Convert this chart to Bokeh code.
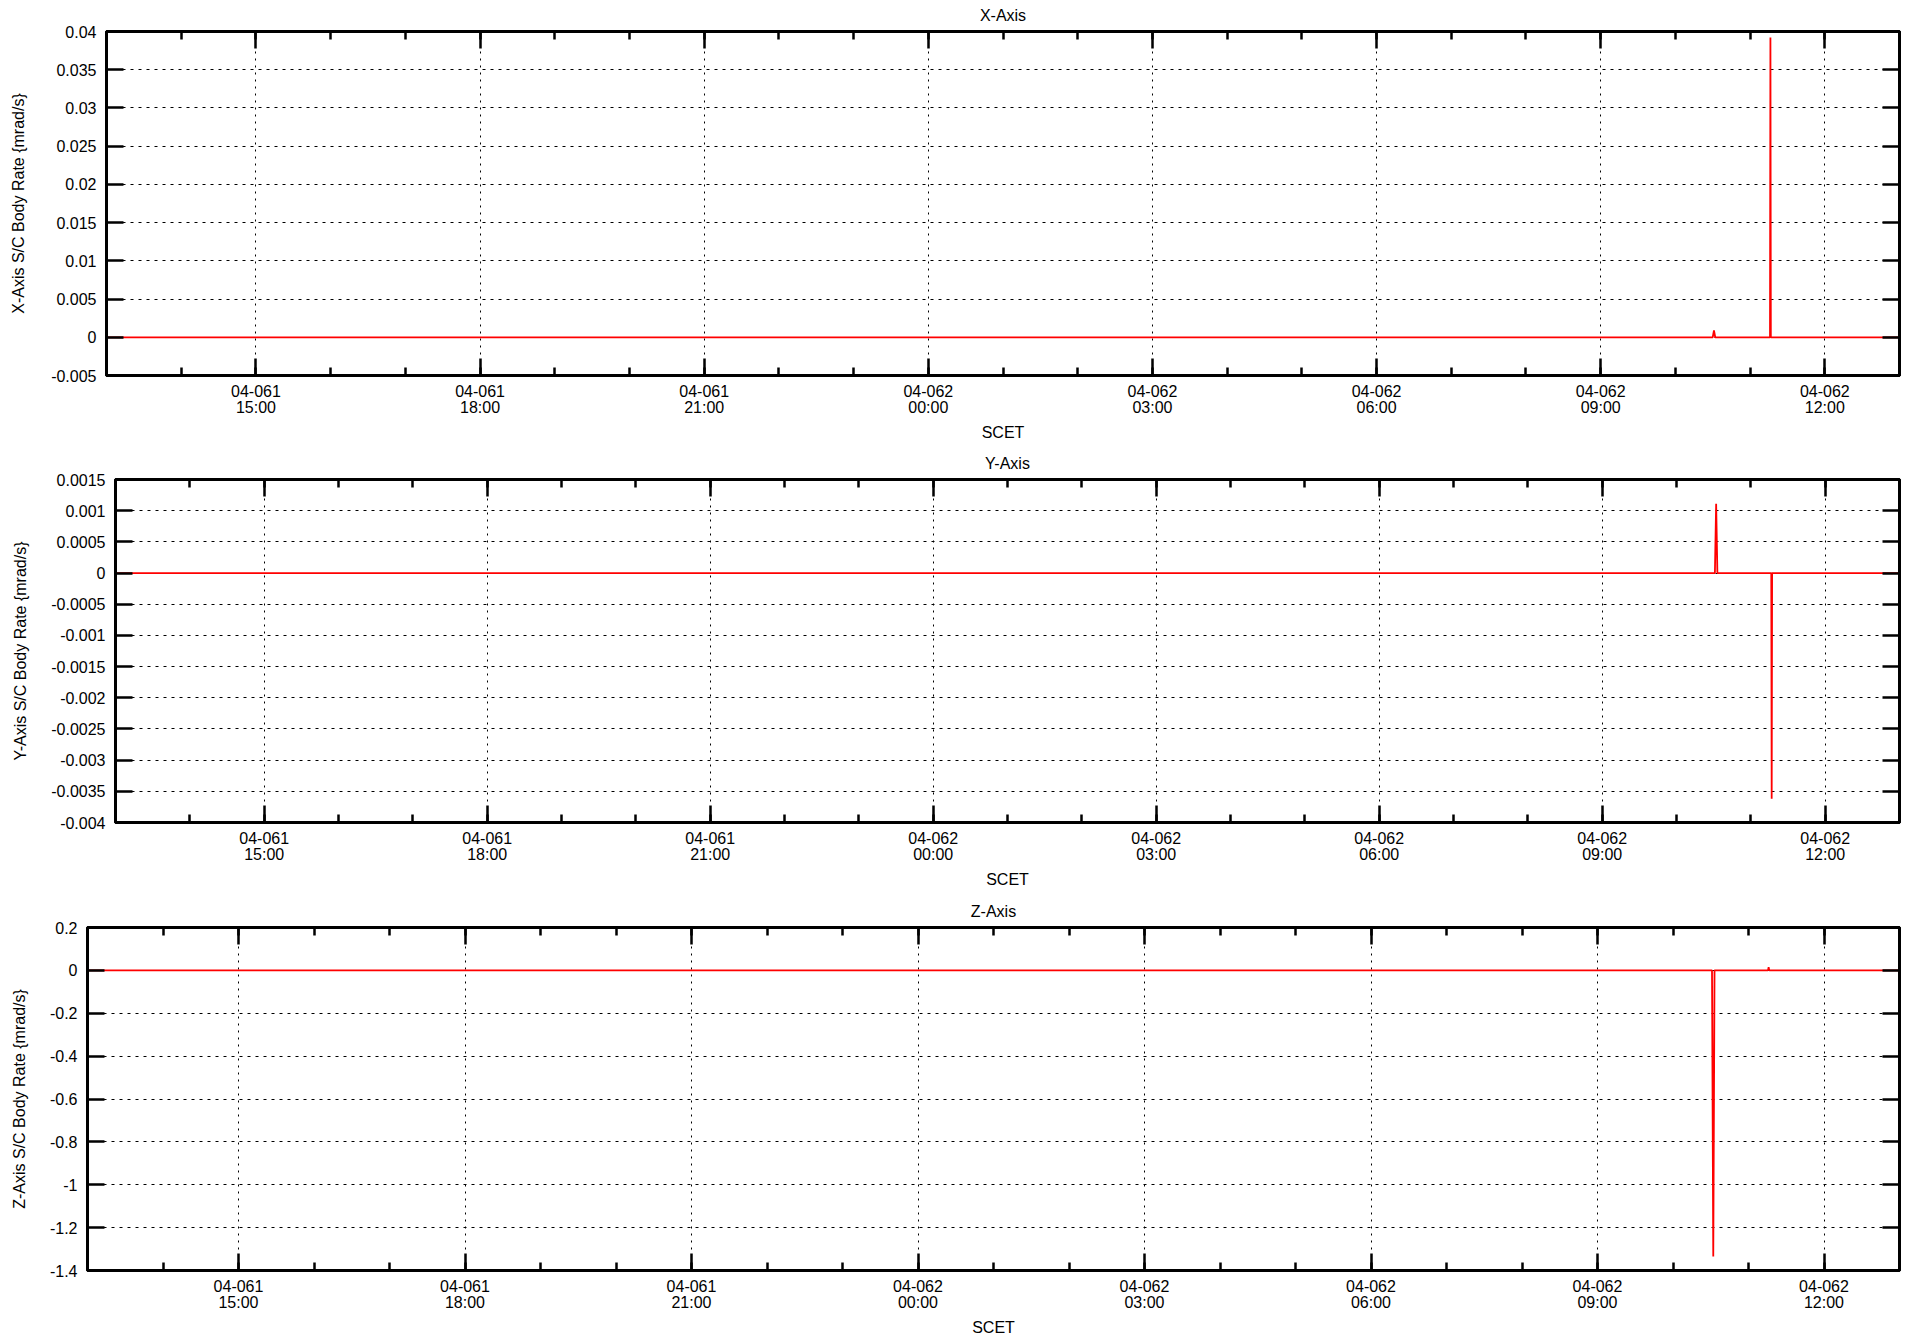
import pandas as pd
from bokeh.plotting import figure
from bokeh.models import (Range1d, FixedTicker, LinearAxis, DatetimeAxis,
                          ColumnDataSource, CustomLabelingPolicy)
from bokeh.embed import file_html
from bokeh.resources import INLINE

# ---------------- data ----------------
x_start = "2004-03-01 13:00:00"
x_end = "2004-03-02 13:00:00"

major_times = ["2004-03-01 15:00:00", "2004-03-01 18:00:00", "2004-03-01 21:00:00",
               "2004-03-02 00:00:00", "2004-03-02 03:00:00", "2004-03-02 06:00:00",
               "2004-03-02 09:00:00", "2004-03-02 12:00:00"]
major_labels = ["04-061\n15:00", "04-061\n18:00", "04-061\n21:00",
                "04-062\n00:00", "04-062\n03:00", "04-062\n06:00",
                "04-062\n09:00", "04-062\n12:00"]

x_times = ["2004-03-01 13:00:00", "2004-03-02 10:30:00", "2004-03-02 10:31:00",
           "2004-03-02 10:32:00", "2004-03-02 11:16:00", "2004-03-02 11:16:20",
           "2004-03-02 11:16:40", "2004-03-02 13:00:00"]
x_rate = [0.0, 0.0, 0.0009, 0.0, 0.0, 0.0392, 0.0, 0.0]

y_times = ["2004-03-01 13:00:00", "2004-03-02 10:31:00", "2004-03-02 10:32:00",
           "2004-03-02 10:33:00", "2004-03-02 11:16:30", "2004-03-02 11:16:50",
           "2004-03-02 11:17:10", "2004-03-02 13:00:00"]
y_rate = [0.0, 0.0, 0.00111, 0.0, 0.0, -0.00362, 0.0, 0.0]

z_times = ["2004-03-01 13:00:00", "2004-03-02 10:31:00", "2004-03-02 10:32:00",
           "2004-03-02 10:33:00", "2004-03-02 11:15:30", "2004-03-02 11:16:00",
           "2004-03-02 11:16:30", "2004-03-02 13:00:00"]
z_rate = [0.0, 0.0, -1.335, 0.0, 0.0, 0.015, 0.0, 0.0]

x_yticks = [-0.005, 0, 0.005, 0.01, 0.015, 0.02, 0.025, 0.03, 0.035, 0.04]
x_ylabels = ["-0.005", "0", "0.005", "0.01", "0.015", "0.02", "0.025", "0.03", "0.035", "0.04"]
y_yticks = [-0.004, -0.0035, -0.003, -0.0025, -0.002, -0.0015, -0.001, -0.0005, 0, 0.0005, 0.001, 0.0015]
y_ylabels = ["-0.004", "-0.0035", "-0.003", "-0.0025", "-0.002", "-0.0015", "-0.001",
             "-0.0005", "0", "0.0005", "0.001", "0.0015"]
z_yticks = [-1.4, -1.2, -1.0, -0.8, -0.6, -0.4, -0.2, 0, 0.2]
z_ylabels = ["-1.4", "-1.2", "-1", "-0.8", "-0.6", "-0.4", "-0.2", "0", "0.2"]


def ms(s):
    return pd.Timestamp(s).value / 1e6


FONT = "Liberation Sans"
FS = "16px"
major_ms = [ms(t) for t in major_times]
minor_ms = [ms(t) for t in pd.date_range(x_start, x_end, freq="1h")]

NO_LABELS = "const all = Array.from(indices); for (const i of all) indices.unset(i);"


def style_axis(ax, show_labels):
    ax.axis_line_color = "black"
    ax.axis_line_width = 3
    ax.major_tick_in = 17
    ax.major_tick_out = 0
    ax.minor_tick_in = 8
    ax.minor_tick_out = 0
    ax.major_tick_line_width = 2.5
    ax.minor_tick_line_width = 2.5
    ax.major_tick_line_color = "black"
    ax.minor_tick_line_color = "black"
    ax.major_label_text_font = FONT
    ax.major_label_text_color = "black"
    if show_labels:
        ax.major_label_text_font_size = FS
    else:
        ax.major_label_text_font_size = "1px"
        ax.major_label_policy = CustomLabelingPolicy(code=NO_LABELS)
        ax.major_label_standoff = 0
    ax.axis_label_text_font = FONT
    ax.axis_label_text_font_size = FS
    ax.axis_label_text_font_style = "normal"
    ax.axis_label_text_color = "black"


def panel(title, ylabel, times, vals, yticks, ylabels, height, top, left, bottom,
          ylab_standoff):
    p = figure(width=1910, height=height, x_axis_type="datetime",
               output_backend="svg", toolbar_location=None,
               x_range=Range1d(pd.Timestamp(x_start), pd.Timestamp(x_end)),
               y_range=Range1d(yticks[0], yticks[-1]),
               min_border_top=top, min_border_left=left,
               min_border_bottom=bottom, min_border_right=11)
    p.title.text = title
    p.title.align = "center"
    p.title.text_font = FONT
    p.title.text_font_size = FS
    p.title.text_font_style = "normal"
    p.title.text_color = "black"
    p.title.standoff = 6
    p.title.offset = 0

    src = ColumnDataSource(dict(t=pd.to_datetime(times, format="ISO8601"), v=vals))
    p.line("t", "v", source=src, line_color="#ff0000", line_width=1.8)

    xt = FixedTicker(ticks=major_ms, minor_ticks=minor_ms)
    yt = FixedTicker(ticks=yticks, minor_ticks=[])

    xa = p.xaxis[0]
    xa.ticker = xt
    xa.major_label_overrides = {m: l for m, l in zip(major_ms, major_labels)}
    xa.axis_label = "SCET"
    style_axis(xa, True)
    xa.major_label_standoff = 7
    xa.major_label_text_line_height = 0.95
    xa.axis_label_standoff = 5

    ya = p.yaxis[0]
    ya.ticker = yt
    ya.major_label_overrides = {t: l for t, l in zip(yticks, ylabels)}
    ya.axis_label = ylabel
    style_axis(ya, True)
    ya.major_label_standoff = 10
    ya.axis_label_standoff = ylab_standoff

    xa2 = DatetimeAxis(ticker=FixedTicker(ticks=major_ms, minor_ticks=minor_ms))
    style_axis(xa2, False)
    p.add_layout(xa2, "above")
    ya2 = LinearAxis(ticker=FixedTicker(ticks=yticks, minor_ticks=[]))
    style_axis(ya2, False)
    p.add_layout(ya2, "right")

    p.xgrid.ticker = xt
    p.ygrid.ticker = yt
    p.outline_line_color = "black"
    p.outline_line_width = 3
    p.xgrid.grid_line_color = "black"
    p.xgrid.grid_line_dash = "2 5"
    p.xgrid.grid_line_width = 1
    p.ygrid.grid_line_color = "black"
    p.ygrid.grid_line_dash = "3 5"
    p.ygrid.grid_line_width = 1
    p.background_fill_color = "white"
    p.border_fill_color = "white"
    return p


p1 = panel("X-Axis", "X-Axis S/C Body Rate {mrad/s}", x_times, x_rate,
           x_yticks, x_ylabels, 446, 31, 106, 71, 21)
p2 = panel("Y-Axis", "Y-Axis S/C Body Rate {mrad/s}", y_times, y_rate,
           y_yticks, y_ylabels, 446, 33, 115, 70, 19)
p3 = panel("Z-Axis", "Z-Axis S/C Body Rate {mrad/s}", z_times, z_rate,
           z_yticks, z_ylabels, 446, 35, 87, 67, 19)

open("out.html", "w").write(file_html([p1, p2, p3], INLINE))
